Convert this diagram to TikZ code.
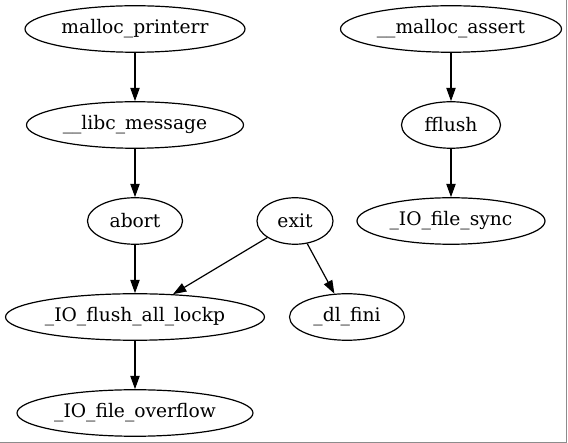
\documentclass[tikz,border=0pt]{standalone}
\usepackage{fontspec}
\setmainfont{DejaVu Serif}
\usetikzlibrary{shapes.geometric,arrows.meta}
\begin{document}
\begin{tikzpicture}[x=1pt,y=-1pt,
  nd/.style={ellipse, draw, line width=1.2pt, inner sep=0pt, minimum height=46.5pt,
    font=\fontsize{18.67}{22}\selectfont},
  edge/.style={line width=1.2pt, -{Triangle[length=13.3pt,width=9.3pt]}}]
\useasboundingbox (0,0) rectangle (568,443);
\fill[white] (0,0) rectangle (568,443);
\draw[line width=1pt, color=black!45] (566.5,0) -- (566.5,442.5) -- (0,442.5);
\node[nd, minimum width=220pt] (mp) at (135,29) {malloc\_printerr};
\node[nd, minimum width=217pt] (lm) at (135,125) {\_\_libc\_message};
\node[nd, minimum width=95pt] (ab) at (135,221) {abort};
\node[nd, minimum width=259pt] (fl) at (135,317) {\_IO\_flush\_all\_lockp};
\node[nd, minimum width=236pt] (fo) at (135,413) {\_IO\_file\_overflow};
\node[nd, minimum width=76pt] (ex) at (295,221) {exit};
\node[nd, minimum width=115pt] (df) at (347,317) {\_dl\_fini};
\node[nd, minimum width=221pt] (ma) at (451,29) {\_\_malloc\_assert};
\node[nd, minimum width=99pt] (ff) at (451,125) {fflush};
\node[nd, minimum width=188pt] (fs) at (451,221) {\_IO\_file\_sync};
\draw[edge] (mp) -- (lm);
\draw[edge] (lm) -- (ab);
\draw[edge] (ab) -- (fl);
\draw[edge] (fl) -- (fo);
\draw[edge] (ex) -- (fl);
\draw[edge] (ex) -- (df);
\draw[edge] (ma) -- (ff);
\draw[edge] (ff) -- (fs);
\end{tikzpicture}
\end{document}
